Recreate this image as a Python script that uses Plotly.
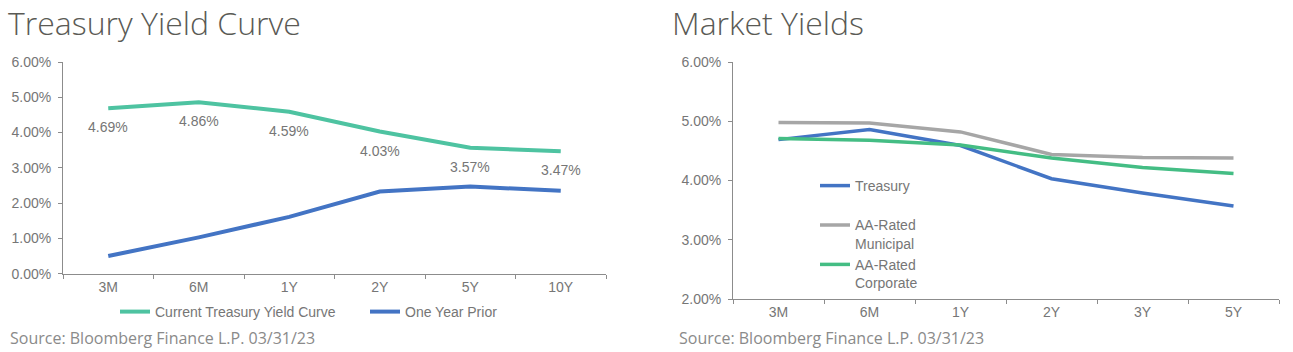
import plotly.graph_objects as go

# ---- data ----
tsy_tenors = ["3M", "6M", "1Y", "2Y", "5Y", "10Y"]
current_curve = [4.69, 4.86, 4.59, 4.03, 3.57, 3.47]
one_year_prior = [0.50, 1.03, 1.61, 2.33, 2.47, 2.35]

mkt_tenors = ["3M", "6M", "1Y", "2Y", "3Y", "5Y"]
treasury = [4.69, 4.86, 4.59, 4.03, 3.79, 3.57]
muni_aa = [4.98, 4.97, 4.82, 4.44, 4.39, 4.38]
corp_aa = [4.71, 4.68, 4.60, 4.38, 4.22, 4.12]

left_ticks = [0, 1, 2, 3, 4, 5, 6]
right_ticks = [2, 3, 4, 5, 6]

W, H = 1293, 352
TEAL = "#4ec3a1"
BLUE = "#4374c4"
GRAY = "#a6a6a6"
GREEN = "#44bd84"
AXIS = "#8c8c8c"
TXT = "#767676"
FONT = "Liberation Sans, Arial"

fig = go.Figure()

fig.add_trace(go.Scatter(x=tsy_tenors, y=current_curve, mode="lines",
                         name="Current Treasury Yield Curve",
                         line=dict(color=TEAL, width=4), xaxis="x", yaxis="y",
                         legend="legend"))
fig.add_trace(go.Scatter(x=tsy_tenors, y=one_year_prior, mode="lines",
                         name="One Year Prior",
                         line=dict(color=BLUE, width=4), xaxis="x", yaxis="y",
                         legend="legend"))

fig.add_trace(go.Scatter(x=mkt_tenors, y=treasury, mode="lines", name="Treasury<br>&nbsp;",
                         line=dict(color=BLUE, width=3.5), xaxis="x2", yaxis="y2",
                         legend="legend2"))
fig.add_trace(go.Scatter(x=mkt_tenors, y=muni_aa, mode="lines", name="AA-Rated<br>Municipal",
                         line=dict(color=GRAY, width=3.5), xaxis="x2", yaxis="y2",
                         legend="legend2"))
fig.add_trace(go.Scatter(x=mkt_tenors, y=corp_aa, mode="lines", name="AA-Rated<br>Corporate",
                         line=dict(color=GREEN, width=3.5), xaxis="x2", yaxis="y2",
                         legend="legend2"))

annotations = []
for t, v in zip(tsy_tenors, current_curve):
    annotations.append(dict(x=t, y=v, xref="x", yref="y", text=f"{v:.2f}%",
                            showarrow=False, yshift=-19,
                            font=dict(family=FONT, size=14, color=TXT)))

title_font = dict(family="Open Sans, Lato, sans-serif", size=32, color="#5a5a55", weight=300)
annotations += [
    dict(x=6 / W, y=1 - 22 / H, xref="paper", yref="paper", xanchor="left", yanchor="middle",
         text="Treasury Yield Curve", showarrow=False, font=title_font),
    dict(x=670 / W, y=1 - 22 / H, xref="paper", yref="paper", xanchor="left", yanchor="middle",
         text="Market Yields", showarrow=False, font=title_font),
    dict(x=8 / W, y=1 - 338 / H, xref="paper", yref="paper", xanchor="left", yanchor="middle",
         text="Source: Bloomberg Finance L.P. 03/31/23", showarrow=False,
         font=dict(family="Open Sans, Lato, sans-serif", size=16, color="#8a8a8a")),
    dict(x=677 / W, y=1 - 338 / H, xref="paper", yref="paper", xanchor="left", yanchor="middle",
         text="Source: Bloomberg Finance L.P. 03/31/23", showarrow=False,
         font=dict(family="Open Sans, Lato, sans-serif", size=16, color="#8a8a8a")),
]

axis_common = dict(showgrid=False, zeroline=False, showline=True, linecolor=AXIS, linewidth=1,
                   ticks="outside", tickcolor=AXIS, ticklen=4)
xfont = dict(family=FONT, size=14, color=TXT)
yfont = dict(family=FONT, size=14, color=TXT)

fig.update_layout(
    width=W, height=H,
    margin=dict(l=0, r=0, t=0, b=0, pad=0, autoexpand=False),
    paper_bgcolor="white", plot_bgcolor="white",
    showlegend=True,
    xaxis=dict(domain=[63 / W, 606 / W], anchor="y", tickson="boundaries",
               range=[-0.5, 5.5], tickfont=xfont, **axis_common),
    yaxis=dict(domain=[1 - 273.7 / H, 1 - 62 / H], anchor="x", range=[0, 6],
               tickvals=left_ticks, ticktext=[f"{v:.2f}%" for v in left_ticks],
               tickfont=yfont, ticklabelstandoff=4, **axis_common),
    xaxis2=dict(domain=[733 / W, 1279 / W], anchor="y2", tickson="boundaries",
                range=[-0.5, 5.5], tickfont=xfont, **axis_common),
    yaxis2=dict(domain=[1 - 299 / H, 1 - 62 / H], anchor="x2", range=[2, 6],
                tickvals=right_ticks, ticktext=[f"{v:.2f}%" for v in right_ticks],
                tickfont=yfont, ticklabelstandoff=4, **axis_common),
    legend=dict(orientation="h", x=115 / W, y=1 - 312 / H, xanchor="left", yanchor="middle",
                entrywidth=205, entrywidthmode="pixels", bgcolor="rgba(0,0,0,0)",
                font=dict(family=FONT, size=14, color=TXT), itemwidth=30),
    legend2=dict(orientation="v", x=815 / W, y=1 - 170 / H, xanchor="left", yanchor="top",
                 bgcolor="rgba(0,0,0,0)", valign="top", tracegroupgap=0,
                 font=dict(family=FONT, size=14, color=TXT), itemwidth=30),
    annotations=annotations,
)

fig.write_html("out.html")
